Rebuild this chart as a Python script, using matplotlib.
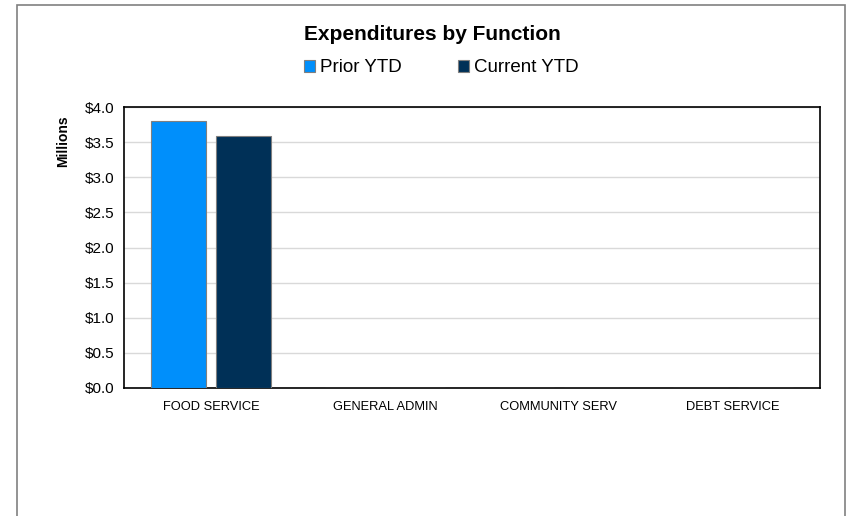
import matplotlib
matplotlib.use("Agg")
import matplotlib.pyplot as plt
import numpy as np
from matplotlib.patches import Rectangle

plt.rcParams["font.family"] = ["Liberation Sans", "DejaVu Sans"]

categories = ["FOOD SERVICE", "GENERAL ADMIN", "COMMUNITY SERV", "DEBT SERVICE"]
prior_ytd = [3.80, 0.0, 0.0, 0.0]
current_ytd = [3.59, 0.0, 0.0, 0.006]
y_ticks = [0.0, 0.5, 1.0, 1.5, 2.0, 2.5, 3.0, 3.5, 4.0]

fig = plt.figure(figsize=(8.54, 5.16), dpi=100)
W, H = 854, 516

# outer chart frame
fig.patches.append(Rectangle((17 / W, -0.01), (845 - 17) / W, (516 - 5) / H + 0.01,
                             transform=fig.transFigure, fill=False,
                             edgecolor="#808080", linewidth=1.2))

ax = fig.add_axes([124 / W, 1 - 388 / H, (820 - 124) / W, (388 - 107) / H])

x = np.arange(len(categories))
width = 0.316
off = 0.184
ax.bar(x - off, prior_ytd, width, color="#008FFB", edgecolor="#7f7f7f",
       linewidth=0.8, label="Prior YTD", zorder=3)
ax.bar(x + off, current_ytd, width, color="#003057", edgecolor="#7f7f7f",
       linewidth=0.8, label="Current YTD", zorder=3)

ax.set_xlim(-0.5, len(categories) - 0.5)
ax.set_ylim(0, 4)
ax.set_yticks(y_ticks)
ax.set_yticklabels([f"${v:.1f}" for v in y_ticks], fontsize=11)
ax.set_xticks(x)
ax.set_xticklabels(categories, fontsize=9.3)
ax.tick_params(axis="x", length=0, pad=9)
ax.tick_params(axis="y", length=0, pad=7)
ax.grid(axis="y", color="#d9d9d9", linewidth=1, zorder=0)
for s in ax.spines.values():
    s.set_color("black")
    s.set_linewidth(1.2)

ax.set_ylabel("Millions", fontsize=10, fontweight="bold")
ax.yaxis.set_label_coords(-0.078, 0.88)

fig.text(432 / W, 1 - 34 / H, "Expenditures by Function", ha="center",
         va="center", fontsize=15, fontweight="bold")
fig.legend(loc="center", bbox_to_anchor=(441 / W, 1 - 68 / H), ncol=2,
           frameon=False, fontsize=13.5, handlelength=0.6, handleheight=0.6,
           handletextpad=0.25, columnspacing=3.0)

fig.savefig("out.png", dpi=100)
